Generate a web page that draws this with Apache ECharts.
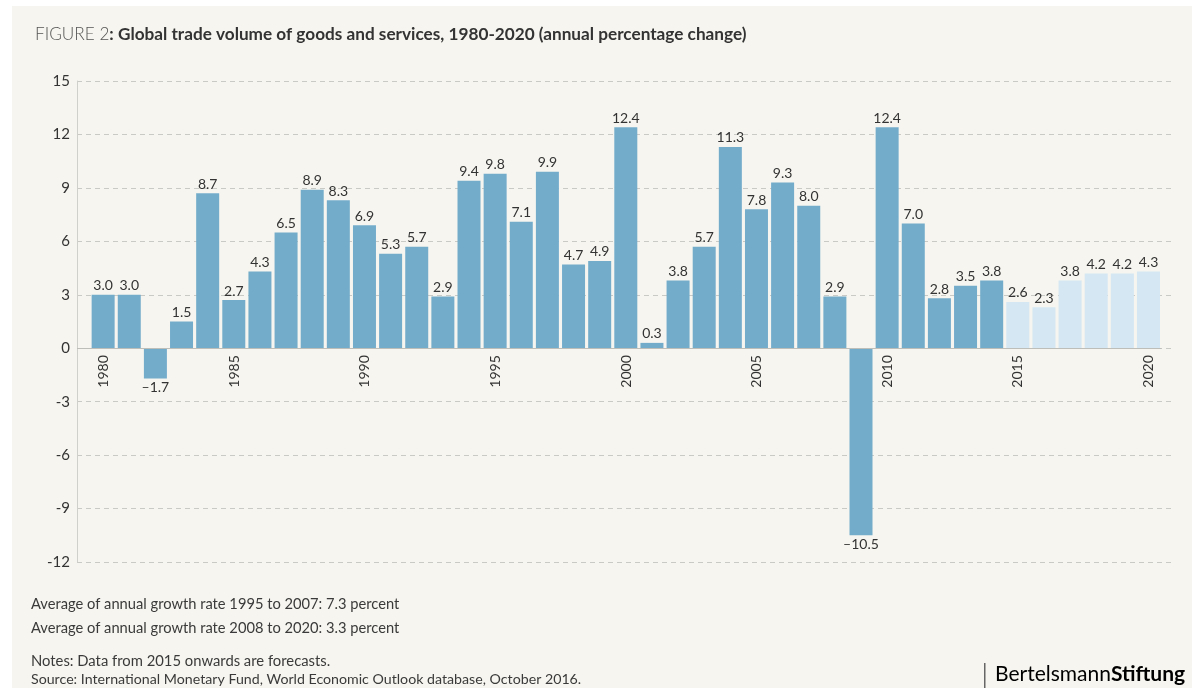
<!DOCTYPE html>
<html>
<head>
<meta charset="utf-8">
<script src="https://cdn.jsdelivr.net/npm/echarts@6/dist/echarts.min.js"></script>
<style>
  html, body { margin: 0; padding: 0; background: #ffffff; }
  #chart { width: 1192px; height: 688px; }
</style>
</head>
<body>
<div id="chart"></div>
<script>
// Years on the horizontal axis
const years = [
  1980, 1981, 1982, 1983, 1984, 1985, 1986, 1987, 1988, 1989,
  1990, 1991, 1992, 1993, 1994, 1995, 1996, 1997, 1998, 1999,
  2000, 2001, 2002, 2003, 2004, 2005, 2006, 2007, 2008, 2009,
  2010, 2011, 2012, 2013, 2014, 2015, 2016, 2017, 2018, 2019, 2020
];
// Annual percentage change of global trade volume
const tradeGrowth = [
  3.0, 3.0, -1.7, 1.5, 8.7, 2.7, 4.3, 6.5, 8.9, 8.3,
  6.9, 5.3, 5.7, 2.9, 9.4, 9.8, 7.1, 9.9, 4.7, 4.9,
  12.4, 0.3, 3.8, 5.7, 11.3, 7.8, 9.3, 8.0, 2.9, -10.5,
  12.4, 7.0, 2.8, 3.5, 3.8, 2.6, 2.3, 3.8, 4.2, 4.2, 4.3
];
// First forecast year
const forecastFrom = 2015;
// Value axis ticks
const yTicks = [-12, -9, -6, -3, 0, 3, 6, 9, 12, 15];
// Every fifth year is labelled
const yearLabelStep = 5;

const titleLead = 'FIGURE 2';
const titleMain = ': Global trade volume of goods and services, 1980-2020 (annual percentage change)';
const footLines = [
  'Average of annual growth rate 1995 to 2007: 7.3 percent',
  'Average of annual growth rate 2008 to 2020: 3.3 percent'
];
const noteLines = [
  'Notes: Data from 2015 onwards are forecasts.',
  'Source: International Monetary Fund, World Economic Outlook database, October 2016.'
];

const FONT = 'Lato, "Open Sans", sans-serif';
const BAR = '#73accb';
const BAR_FORECAST = '#d4e7f3';
const TEXT = '#333333';

const fmt = v => (v < 0 ? '\u2013' + Math.abs(v).toFixed(1) : v.toFixed(1));

const barData = years.map((y, i) => {
  const v = tradeGrowth[i];
  return {
    value: [y, v],
    itemStyle: { color: y >= forecastFrom ? BAR_FORECAST : BAR },
    label: { position: v < 0 ? 'bottom' : 'top' }
  };
});

const yMin = yTicks[0];
const yMax = yTicks[yTicks.length - 1];

// Plot box, in pixels
const plotTop = 81;
const plotBottom = 562;
const zeroY = plotTop + (plotBottom - plotTop) * yMax / (yMax - yMin);

const chart = echarts.init(document.getElementById('chart'), null, { renderer: 'canvas' });

chart.setOption({
  animation: false,
  backgroundColor: '#ffffff',
  textStyle: { fontFamily: FONT },
  title: {
    left: 30,
    top: 21,
    text: '{a|' + titleLead + '}{b|' + titleMain + '}',
    textStyle: {
      rich: {
        a: { fontFamily: FONT, fontSize: 17.2, fontWeight: 300, color: '#555555' },
        b: { fontFamily: FONT, fontSize: 17.2, fontWeight: 'bold', color: TEXT }
      }
    }
  },
  grid: [
    // plot area with the bars and the dashed guides
    { left: 77, right: 20, top: plotTop, bottom: 688 - plotBottom, containLabel: false },
    // year labels hang from the zero line, aligned with the bar slots
    { left: 90.6, right: 30.6, top: plotTop, bottom: 688 - zeroY, containLabel: false }
  ],
  xAxis: [
    {
      gridIndex: 0,
      type: 'value',
      min: 1979,
      max: 2020.9,
      interval: 1,
      axisLine: { show: false },
      axisTick: { show: false },
      splitLine: { show: false },
      axisLabel: { show: false }
    },
    {
      gridIndex: 1,
      type: 'category',
      data: years,
      boundaryGap: true,
      axisLine: { show: false },
      axisTick: { show: false },
      splitLine: { show: false },
      axisLabel: {
        interval: 0,
        rotate: 90,
        margin: 7,
        fontFamily: FONT,
        fontSize: 14,
        color: TEXT,
        formatter: v => (Number(v) % yearLabelStep === 0 ? String(v) : '')
      }
    }
  ],
  yAxis: [
    {
      gridIndex: 0,
      type: 'value',
      min: yMin,
      max: yMax,
      interval: 3,
      axisLine: { show: true, onZero: false, lineStyle: { color: '#cfcfcb', width: 1 } },
      axisTick: { show: false },
      axisLabel: { fontFamily: FONT, fontSize: 15, color: TEXT, margin: 7 },
      splitLine: { show: true, lineStyle: { color: '#c9c9c5', type: [5, 4], width: 1 } }
    },
    {
      gridIndex: 1,
      type: 'value',
      min: 0,
      max: yMax,
      show: false,
      splitLine: { show: false }
    }
  ],
  series: [{
    type: 'bar',
    xAxisIndex: 0,
    yAxisIndex: 0,
    data: barData,
    barWidth: 23,
    label: {
      show: true,
      distance: 2,
      fontFamily: FONT,
      fontSize: 14,
      color: TEXT,
      formatter: p => fmt(p.value[1])
    },
    markLine: {
      silent: true,
      symbol: 'none',
      label: { show: false },
      lineStyle: { color: '#bdbdb9', type: 'solid', width: 1 },
      data: [[{ coord: [1979, 0] }, { coord: [2020.5, 0] }]]
    },
    z: 3
  }],
  graphic: [
    {
      type: 'rect', z: -10, silent: true,
      shape: { x: 12, y: 6, width: 1180, height: 682 },
      style: { fill: '#f6f5ef' }
    },
    {
      type: 'text', left: 31, top: 597,
      style: { text: footLines[0], font: '14.7px ' + FONT, fill: '#3a3a3a' }
    },
    {
      type: 'text', left: 31, top: 621,
      style: { text: footLines[1], font: '14.7px ' + FONT, fill: '#3a3a3a' }
    },
    {
      type: 'text', left: 31, top: 654,
      style: { text: noteLines[0], font: '14.8px ' + FONT, fill: '#3a3a3a' }
    },
    {
      type: 'text', left: 31, top: 672,
      style: { text: noteLines[1], font: '14.2px ' + FONT, fill: '#3a3a3a' }
    },
    {
      type: 'rect', silent: true,
      shape: { x: 984, y: 663, width: 1.5, height: 25 },
      style: { fill: '#666666' }
    },
    {
      type: 'text', left: 995, top: 664,
      style: {
        text: '{r|Bertelsmann}{b|Stiftung}',
        rich: {
          r: { fontFamily: FONT, fontSize: 21, color: '#4a4a4a' },
          b: { fontFamily: FONT, fontSize: 21, fontWeight: 'bold', color: '#4a4a4a' }
        }
      }
    }
  ]
});
</script>
</body>
</html>
